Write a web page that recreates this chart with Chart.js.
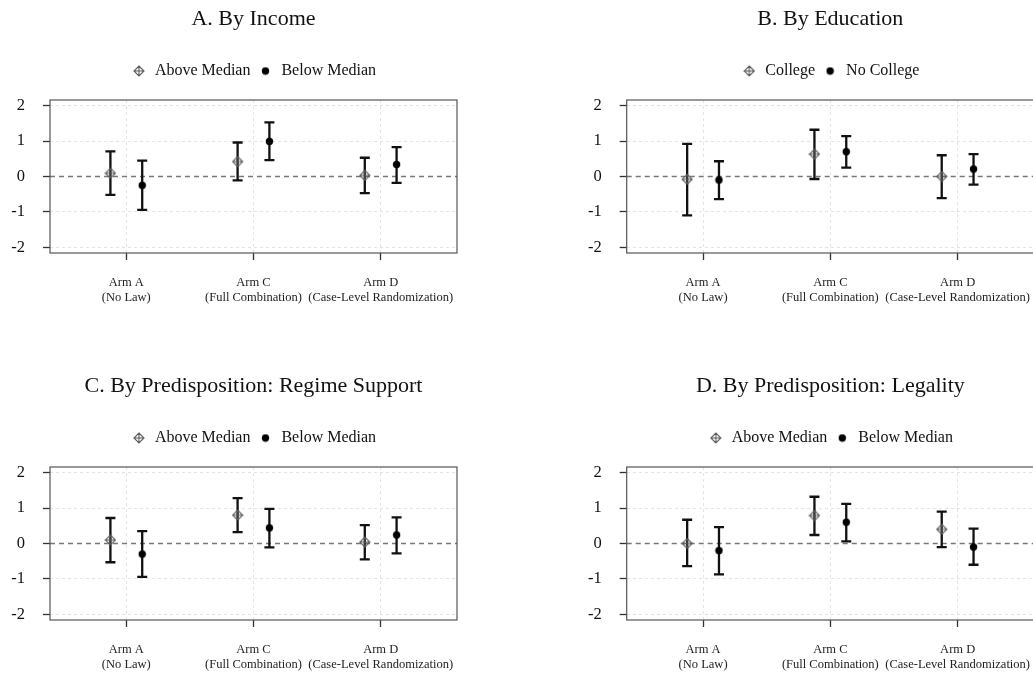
<!DOCTYPE html>
<html>
<head>
<meta charset="utf-8">
<script src="https://cdn.jsdelivr.net/npm/chart.js@4.4.1/dist/chart.umd.min.js"></script>
<style>
  html, body { margin: 0; padding: 0; background: #fff; overflow: hidden; }
  body { position: relative; width: 1033px; height: 674px; }
  canvas { position: absolute; }
</style>
</head>
<body>
<canvas id="panelA" width="516" height="337" style="left:0;top:0"></canvas>
<canvas id="panelB" width="530" height="337" style="left:516px;top:0"></canvas>
<canvas id="panelC" width="516" height="307" style="left:0;top:367px"></canvas>
<canvas id="panelD" width="530" height="307" style="left:516px;top:367px"></canvas>
<script>
// categories and ticks
const armLabels = [['Arm A', '(No Law)'], ['Arm C', '(Full Combination)'], ['Arm D', '(Case-Level Randomization)']];
const armPos = [1, 2, 3];
const yTickValues = [-2, -1, 0, 1, 2];
const groupOffset = [-0.125, 0.125];

// A. By Income
const incomeAboveEst = [0.09, 0.42, 0.03];
const incomeAboveLo = [-0.52, -0.11, -0.47];
const incomeAboveHi = [0.71, 0.96, 0.53];
const incomeBelowEst = [-0.25, 0.99, 0.34];
const incomeBelowLo = [-0.94, 0.46, -0.18];
const incomeBelowHi = [0.45, 1.53, 0.83];

// B. By Education
const collegeEst = [-0.08, 0.63, 0.00];
const collegeLo = [-1.10, -0.07, -0.61];
const collegeHi = [0.92, 1.32, 0.60];
const noCollegeEst = [-0.10, 0.70, 0.21];
const noCollegeLo = [-0.64, 0.25, -0.23];
const noCollegeHi = [0.43, 1.14, 0.63];

// C. By Predisposition: Regime Support
const regimeAboveEst = [0.10, 0.80, 0.04];
const regimeAboveLo = [-0.53, 0.32, -0.45];
const regimeAboveHi = [0.72, 1.28, 0.52];
const regimeBelowEst = [-0.30, 0.44, 0.24];
const regimeBelowLo = [-0.94, -0.11, -0.28];
const regimeBelowHi = [0.35, 0.98, 0.74];

// D. By Predisposition: Legality
const legalAboveEst = [0.00, 0.79, 0.40];
const legalAboveLo = [-0.64, 0.24, -0.10];
const legalAboveHi = [0.67, 1.32, 0.90];
const legalBelowEst = [-0.20, 0.60, -0.10];
const legalBelowLo = [-0.87, 0.06, -0.60];
const legalBelowHi = [0.46, 1.12, 0.42];

const serif = '"Liberation Serif", "DejaVu Serif", serif';

// marker images: open diamond with a plus, and a filled dot
function diamondPlus() {
  const c = document.createElement('canvas');
  c.width = 12; c.height = 12;
  const g = c.getContext('2d');
  g.strokeStyle = '#5a5a5a';
  g.lineWidth = 1.1;
  g.beginPath();
  g.moveTo(6, 1); g.lineTo(11, 6); g.lineTo(6, 11); g.lineTo(1, 6); g.closePath();
  g.moveTo(6, 1); g.lineTo(6, 11);
  g.moveTo(1, 6); g.lineTo(11, 6);
  g.stroke();
  return c;
}
function filledDot() {
  const c = document.createElement('canvas');
  c.width = 9; c.height = 9;
  const g = c.getContext('2d');
  g.fillStyle = '#000';
  g.beginPath();
  g.arc(4.5, 4.5, 3.7, 0, Math.PI * 2);
  g.fill();
  return c;
}
const openMark = diamondPlus();
const dotMark = filledDot();

// zero line, error bars and the box round the plot
const errorBars = {
  id: 'errorBars',
  beforeDatasetsDraw(chart) {
    const { ctx, chartArea: { left, right } } = chart;
    const xs = chart.scales.x, ys = chart.scales.y;
    ctx.save();
    ctx.strokeStyle = '#777';
    ctx.lineWidth = 1.3;
    ctx.setLineDash([5, 4]);
    const y0 = ys.getPixelForValue(0);
    ctx.beginPath();
    ctx.moveTo(left, y0);
    ctx.lineTo(right, y0);
    ctx.stroke();
    ctx.setLineDash([]);
    ctx.strokeStyle = '#111';
    ctx.lineWidth = 2.3;
    chart.data.datasets.forEach(ds => {
      ds.data.forEach((p, i) => {
        const x = xs.getPixelForValue(p.x);
        const yl = ys.getPixelForValue(ds.lo[i]);
        const yh = ys.getPixelForValue(ds.hi[i]);
        ctx.beginPath();
        ctx.moveTo(x, yl); ctx.lineTo(x, yh);
        ctx.moveTo(x - 5, yl); ctx.lineTo(x + 5, yl);
        ctx.moveTo(x - 5, yh); ctx.lineTo(x + 5, yh);
        ctx.stroke();
      });
    });
    ctx.restore();
  },
  afterDraw(chart) {
    const { ctx, chartArea: { left, top, width, height } } = chart;
    ctx.save();
    ctx.strokeStyle = '#555';
    ctx.lineWidth = 1.2;
    ctx.strokeRect(left, top, width, height);
    ctx.restore();
  }
};

function points(est, k) {
  return est.map((v, i) => ({ x: armPos[i] + groupOffset[k], y: v }));
}

function makePanel(id, title, names, est1, lo1, hi1, est2, lo2, hi2, pad) {
  new Chart(document.getElementById(id), {
    type: 'scatter',
    data: {
      datasets: [
        { label: names[0], data: points(est1, 0), lo: lo1, hi: hi1, pointStyle: openMark, pointRadius: 5, xAxisID: 'x', yAxisID: 'y' },
        { label: names[1], data: points(est2, 1), lo: lo2, hi: hi2, pointStyle: dotMark, pointRadius: 4, xAxisID: 'x', yAxisID: 'y' }
      ]
    },
    options: {
      responsive: false,
      animation: false,
      layout: { padding: pad },
      plugins: {
        tooltip: { enabled: false },
        title: {
          display: true,
          text: title,
          fullSize: false,
          color: '#111',
          font: { family: serif, size: 22, weight: 'normal', lineHeight: 1.2 },
          padding: { top: 6.3, bottom: 23.3 }
        },
        legend: {
          display: true,
          position: 'top',
          fullSize: false,
          labels: {
            usePointStyle: true,
            pointStyleWidth: 16,
            padding: 7,
            color: '#111',
            font: { family: serif, size: 16 }
          }
        }
      },
      scales: {
        x: {
          type: 'linear',
          min: 0.4,
          max: 3.6,
          afterBuildTicks: s => { s.ticks = armPos.map(v => ({ value: v })); },
          afterFit: s => { s.height = 54; s.paddingLeft = 0; s.paddingRight = 0; },
          border: { display: false, dash: [3, 3] },
          grid: { color: '#e4e4e4', lineWidth: 1, tickColor: '#333', tickLength: 7, tickWidth: 1.3 },
          ticks: {
            autoSkip: false,
            maxRotation: 0,
            padding: 15.5,
            color: '#222',
            font: { family: serif, size: 12.5, lineHeight: 1.2 },
            callback: v => armLabels[armPos.indexOf(v)]
          }
        },
        gap: {
          type: 'linear',
          position: 'top',
          grid: { display: false, drawTicks: false },
          border: { display: false },
          ticks: { display: false },
          afterFit: s => { s.height = 11; }
        },
        y: {
          min: -2.16,
          max: 2.16,
          afterFit: s => { s.width = 50; },
          border: { display: false, dash: [3, 3] },
          grid: {
            color: c => (c.tick && c.tick.value === 0) ? 'rgba(0,0,0,0)' : '#e4e4e4',
            tickColor: c => (c.tick && yTickValues.includes(c.tick.value)) ? '#333' : 'rgba(0,0,0,0)',
            tickLength: 7,
            tickWidth: 1.3
          },
          ticks: {
            stepSize: 0.5,
            includeBounds: false,
            padding: 18,
            color: '#111',
            font: { family: serif, size: 16.5 },
            callback: v => yTickValues.includes(v) ? String(v) : ''
          }
        }
      }
    },
    plugins: [errorBars]
  });
}

makePanel('panelA', 'A. By Income', ['Above Median', 'Below Median'],
  incomeAboveEst, incomeAboveLo, incomeAboveHi, incomeBelowEst, incomeBelowLo, incomeBelowHi,
  { left: 0, right: 59, top: 0, bottom: 30 });
makePanel('panelB', 'B. By Education', ['College', 'No College'],
  collegeEst, collegeLo, collegeHi, noCollegeEst, noCollegeLo, noCollegeHi,
  { left: 60.7, right: 12, top: 0, bottom: 30 });
makePanel('panelC', 'C. By Predisposition: Regime Support', ['Above Median', 'Below Median'],
  regimeAboveEst, regimeAboveLo, regimeAboveHi, regimeBelowEst, regimeBelowLo, regimeBelowHi,
  { left: 0, right: 59, top: 0, bottom: 0 });
makePanel('panelD', 'D. By Predisposition: Legality', ['Above Median', 'Below Median'],
  legalAboveEst, legalAboveLo, legalAboveHi, legalBelowEst, legalBelowLo, legalBelowHi,
  { left: 60.7, right: 12, top: 0, bottom: 0 });
</script>
</body>
</html>
